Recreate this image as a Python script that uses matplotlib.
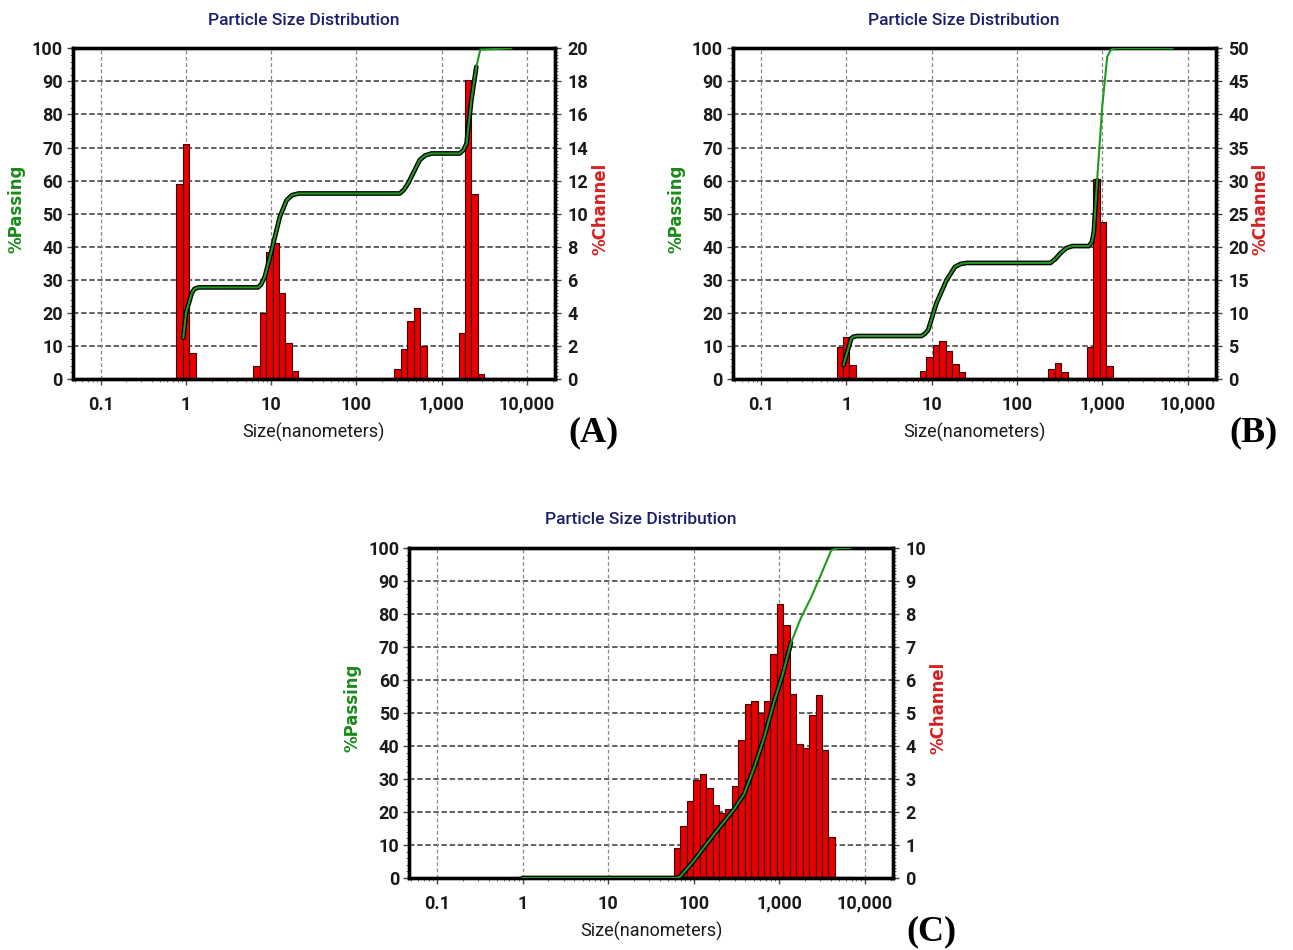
import numpy as np
import matplotlib
matplotlib.use('Agg')
import matplotlib.pyplot as plt
from matplotlib.ticker import FixedLocator, NullFormatter

# ---- data ----
# channel sizes (nm, bar centres) and %channel heights
A_sizes = [0.8409, 1.000, 1.189, 6.727, 8.000, 9.514, 11.31, 13.45, 16.00, 19.03,
           304.4, 362.0, 430.5, 512.0, 608.9, 1722, 2048, 2435, 2896]
A_channel = [11.8, 14.2, 1.6, 0.8, 4.0, 7.7, 8.2, 5.2, 2.2, 0.5,
             0.6, 1.8, 3.5, 4.3, 2.0, 2.8, 18.1, 11.2, 0.3]
A_cum_size = [0.93, 1.0, 1.165, 1.25, 1.4, 7.0, 7.6, 8.4, 9.9, 12.6, 15.1, 17.5, 21.0,
              322, 360, 403, 552, 640, 760, 1620, 1800, 1960, 2230, 2550, 2840, 6550]
A_cum_pass = [12.5, 20.0, 25.9, 27.2, 27.7, 27.7, 28.6, 30.9, 38.0, 49.0, 54.0, 55.6, 56.1,
              56.1, 57.2, 59.1, 66.2, 67.6, 68.2, 68.2, 69.2, 71.2, 84.3, 94.4, 99.6, 100]

B_sizes = [0.8409, 1.000, 1.189, 8.000, 9.514, 11.31, 13.45, 16.00, 19.03, 22.63,
           256.0, 304.4, 362.0, 724.1, 861.1, 1024, 1218]
B_channel = [4.8, 6.4, 2.1, 1.2, 3.3, 5.1, 5.7, 4.3, 2.3, 1.0,
             1.5, 2.4, 1.0, 4.8, 30.3, 23.8, 1.9]
B_cum_size = [0.93, 1.145, 1.22, 1.35, 7.6, 8.3, 9.13, 11.4, 15.0, 18.8, 22.0, 26.0, 247,
              280, 323, 380, 450, 697, 760, 798, 872, 1000, 1145, 1250, 1400, 6665]
B_cum_pass = [4.2, 12.3, 12.8, 13.0, 13.0, 13.6, 14.8, 22.9, 29.9, 33.9, 34.8, 35.1, 35.1,
              36.2, 38.0, 39.6, 40.2, 40.2, 41.5, 44.5, 60.1, 82.3, 97.4, 99.4, 100, 100]

C_sizes = [64.00, 76.11, 90.51, 107.6, 128.0, 152.2, 181.0, 215.3, 256.0, 304.4, 362.0,
           430.5, 512.0, 608.9, 724.1, 861.1, 1024, 1218, 1448, 1722, 2048, 2435, 2896,
           3444, 4096]
C_channel = [0.92, 1.58, 2.33, 2.96, 3.14, 2.74, 2.21, 1.96, 2.08, 2.79, 4.17,
             5.26, 5.36, 5.01, 5.36, 6.80, 8.29, 7.66, 5.59, 4.07, 3.95, 4.94, 5.55,
             3.87, 1.25]
C_cum_size = [1.0, 64, 70, 100, 172, 295, 387, 508, 665, 874, 1097, 1372, 1798, 2354,
              3083, 4050, 4870, 6670]
C_cum_pass = [0, 0, 0.5, 5.2, 13.2, 20.8, 25.4, 33.4, 42.5, 53.6, 61.7, 71.3, 78.9, 85.0,
              92.0, 99.3, 100, 100]

channel_range = [0.8409, 6889]          # measured channel span (red zero line)
xticks = [0.1, 1, 10, 100, 1000, 10000]
xticklabels = ['0.1', '1', '10', '100', '1,000', '10,000']

W, H = 1293, 950
NARROW = ['Roboto', 'DejaVu Sans']
RED = '#e80000'
GREEN = '#1f9a1f'

fig = plt.figure(figsize=(W / 100, H / 100), dpi=100)


def fx(x):
    return x / W


def fy(y):
    return 1 - y / H


def panel(box, sizes, channel, cum_size, cum_pass, ch_max, ch_step, black_until, tag):
    left, top, right, bottom = box
    ax = fig.add_axes([fx(left), fy(bottom), fx(right - left), (bottom - top) / H])
    ax2 = ax.twinx()
    ax.set_zorder(ax2.get_zorder() + 1)
    ax.patch.set_visible(False)

    # histogram on the right axis, bars centred on channel sizes in log space
    s = np.array(sizes)
    lo = s * 2 ** (-1 / 8)
    wd = s * (2 ** (1 / 8) - 2 ** (-1 / 8))
    ax2.bar(lo, channel, width=wd, align='edge', color=RED, edgecolor='#3a0000',
            linewidth=0.8, zorder=2)
    ax2.plot(channel_range, [0, 0], color=RED, lw=1.6, zorder=3, clip_on=False)
    ax2.set_ylim(0, ch_max)
    ax2.set_yticks(np.arange(0, ch_max + 0.1, ch_step))
    ax2.yaxis.set_minor_locator(FixedLocator(np.arange(0, ch_max, ch_step / 10)))
    ax2.grid(axis='y', which='major', ls=(0, (3, 1.5)), color='#555555', lw=1.3)
    ax2.set_axisbelow(True)

    # cumulative curve on the left axis
    cs = np.array(cum_size)
    cp = np.array(cum_pass)
    m = cs <= black_until
    ax.plot(cs[m], cp[m], color='black', lw=3.4, solid_capstyle='round',
            solid_joinstyle='round', zorder=3)
    ax.plot(cs, cp, color=GREEN, lw=1.5, solid_joinstyle='round', zorder=4)
    ax.set_ylim(0, 100)
    ax.set_yticks(np.arange(0, 101, 10))
    ax.yaxis.set_minor_locator(FixedLocator(np.arange(0, 100, 2)))

    ax.set_xscale('log')
    ax.set_xlim(10 ** -1.33, 10 ** 4.33)
    ax.set_xticks(xticks)
    ax.set_xticklabels(xticklabels)
    ax.xaxis.set_minor_formatter(NullFormatter())
    for v in xticks:
        ax2.axvline(v, ls=(0, (3, 2)), color='#8a8a8a', lw=0.9, zorder=1)

    for a in (ax, ax2):
        for sp in a.spines.values():
            sp.set_linewidth(2.4)
            sp.set_color('black')
        a.tick_params(which='major', length=4, width=1, color='#444444')
        a.tick_params(which='minor', length=2.5, width=0.7, color='#666666')
    for lab in ax.get_xticklabels() + ax.get_yticklabels() + ax2.get_yticklabels():
        lab.set_family(NARROW)
        lab.set_fontweight('bold')
        lab.set_fontsize(13)
        lab.set_color('#1a1a1a')
    ax.tick_params(axis='x', pad=8)
    ax.tick_params(axis='y', pad=3)
    ax2.tick_params(axis='y', pad=5)

    cx = (left + right) / 2
    cy = (top + bottom) / 2
    fig.text(fx(cx - 10), fy(top - 28), 'Particle Size Distribution', ha='center',
             va='center', family=NARROW, fontsize=12.5, fontweight='medium',
             color='#1b1f6b')
    fig.text(fx(cx), fy(bottom + 53), 'Size(nanometers)', ha='center', va='center',
             family=NARROW, fontsize=13, color='#1a1a1a')
    fig.text(fx(left - 56), fy(cy - 5), '%Passing', rotation=90, ha='center', va='center',
             fontsize=12, fontweight='bold', color='#1a8a1a')
    fig.text(fx(right + 45), fy(cy - 5), '%Channel', rotation=90, ha='center', va='center',
             fontsize=12, fontweight='bold', color='#d42020')
    fig.text(fx(right + 38), fy(bottom + 54), tag, ha='center', va='center',
             family=['Liberation Serif', 'DejaVu Serif'], fontsize=26, fontweight='bold')


panel((72.7, 48.3, 555, 379), A_sizes, A_channel, A_cum_size, A_cum_pass, 20, 2, 2550, '(A)')
panel((732.7, 48.3, 1215.7, 379), B_sizes, B_channel, B_cum_size, B_cum_pass, 50, 5, 872, '(B)')
panel((409, 548, 893, 878), C_sizes, C_channel, C_cum_size, C_cum_pass, 10, 1, 1372, '(C)')

fig.savefig('out.png', dpi=100)
